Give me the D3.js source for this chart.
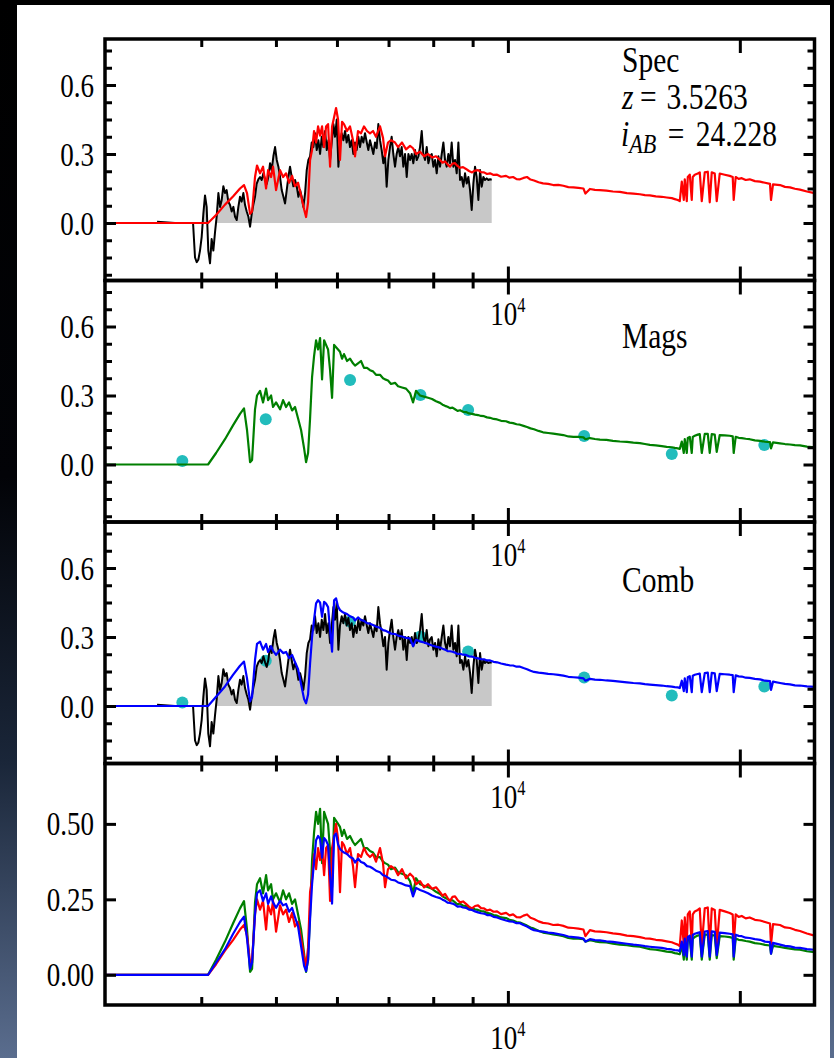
<!DOCTYPE html>
<html>
<head>
<meta charset="utf-8">
<script src="https://cdn.jsdelivr.net/npm/d3@7"></script>
<style>
  html, body { margin: 0; padding: 0; background: #000; }
  svg { display: block; }
</style>
</head>
<body>
<svg id="fig" width="834" height="1058"></svg>
<script>
// ---------- data ----------
// Model SED wavelength grid (observed frame, Angstrom)
const modelWave = [3000, 4082, 4181, 4294, 4398, 4491, 4545, 4586, 4628, 4656,
  4697, 4725, 4768, 4811, 4855, 4884, 4928, 4957, 5002, 5062,
  5108, 5154, 5200, 5247, 5294, 5342, 5390, 5439, 5471, 5504,
  5537, 5570, 5603, 5637, 5671, 5705, 5739, 5774, 5808, 5843,
  5878, 5913, 5949, 5984, 6020, 6055, 6092, 6128, 6184, 6239,
  6295, 6333, 6390, 6447, 6505, 6564, 6623, 6683, 6743, 6824,
  6886, 6927, 6989, 7052, 7137, 7202, 7288, 7376, 7465, 7532,
  7600, 7691, 7784, 7878, 7972, 8068,
  8165, 8226, 8288, 8350, 8412, 8475, 8539, 8603, 8668, 8746,
  8824, 8903, 8984, 9065, 9147, 9230, 9312, 9396, 9481, 9581,
  9682, 9798, 9945, 10050, 10157, 10263, 10369, 10478, 10589, 10700,
  10812, 10960, 11108, 11280, 11452, 11627, 11802, 11980, 12161, 12345,
  12533, 12608, 12778, 12970, 13165, 13425, 13687, 13975, 14271, 14550,
  14836, 15060, 15283, 15560, 15839, 16075, 16320, 16466, 16616, 16714,
  16815, 16916, 16966, 17068, 17119, 17221, 17324, 17376, 17480, 17637,
  17743, 17850, 18010, 18173, 18280, 18390, 18555, 18666, 18834, 19117,
  19404, 19579, 19637, 19755,
  19930, 20117, 20355, 20598, 20920, 21244, 21565, 21887, 21953, 22085,
  22550, 22890, 23233, 23580, 23937, 24440, 25000];

// Best-fit model fluxes: spectrum-only fit
const fluxSpec = [0, 0, 0.035, 0.08, 0.115, 0.15, 0.165, 0.13, 0.04, 0.05,
  0.2, 0.25, 0.216, 0.245, 0.15, 0.23, 0.2, 0.245, 0.143, 0.23,
  0.2, 0.216, 0.175, 0.205, 0.16, 0.175, 0.12, 0.06, 0.026, 0.09,
  0.274, 0.317, 0.4, 0.35, 0.42, 0.38, 0.42, 0.33, 0.42, 0.43,
  0.245, 0.42, 0.46, 0.5, 0.45, 0.274, 0.44, 0.43, 0.4, 0.42,
  0.36, 0.29, 0.4, 0.39, 0.42, 0.4, 0.39, 0.4, 0.375, 0.42,
  0.37, 0.29, 0.35, 0.36, 0.35, 0.33, 0.35, 0.32, 0.335, 0.325,
  0.3, 0.31, 0.29, 0.3, 0.285, 0.29,
  0.274, 0.262, 0.268, 0.255, 0.245, 0.258, 0.26, 0.248, 0.24, 0.243,
  0.235, 0.226, 0.22, 0.228, 0.23, 0.221, 0.22, 0.213, 0.216, 0.209,
  0.21, 0.201, 0.205, 0.197, 0.2, 0.191, 0.19, 0.196, 0.2, 0.189,
  0.185, 0.177, 0.172, 0.17, 0.165, 0.166, 0.162, 0.156, 0.155, 0.153,
  0.15, 0.128, 0.148, 0.144, 0.143, 0.141, 0.137, 0.135, 0.13, 0.128,
  0.125, 0.121, 0.12, 0.116, 0.114, 0.111, 0.108, 0.104, 0.1, 0.095,
  0.18, 0.1, 0.19, 0.095, 0.2, 0.21, 0.1, 0.2, 0.21, 0.215,
  0.22, 0.095, 0.22, 0.223, 0.09, 0.22, 0.215, 0.095, 0.215, 0.21,
  0.205, 0.2, 0.1, 0.2,
  0.192, 0.195, 0.187, 0.19, 0.182, 0.18, 0.175, 0.17, 0.1, 0.168,
  0.165, 0.157, 0.155, 0.149, 0.145, 0.137, 0.13];

// Best-fit model fluxes: photometry-only fit
const fluxMags = [0, 0, 0.05, 0.11, 0.17, 0.22, 0.244, 0.15, 0.01, 0.02,
  0.24, 0.3, 0.32, 0.27, 0.33, 0.28, 0.3, 0.25, 0.27, 0.24,
  0.28, 0.25, 0.27, 0.235, 0.25, 0.2, 0.15, 0.07, 0.01, 0.05,
  0.2, 0.38, 0.47, 0.54, 0.5, 0.55, 0.37, 0.54, 0.52, 0.5,
  0.41, 0.29, 0.52, 0.51, 0.5, 0.49, 0.46, 0.48, 0.45, 0.46,
  0.44, 0.43, 0.44, 0.45, 0.42, 0.42, 0.41, 0.405, 0.39, 0.39,
  0.375, 0.37, 0.365, 0.35, 0.355, 0.34, 0.335, 0.33, 0.31, 0.27,
  0.32, 0.3, 0.295, 0.29, 0.285, 0.275,
  0.268, 0.26, 0.255, 0.251, 0.245, 0.247, 0.24, 0.233, 0.236, 0.229,
  0.228, 0.222, 0.22, 0.217, 0.215, 0.211, 0.21, 0.205, 0.203, 0.198,
  0.196, 0.19, 0.188, 0.182, 0.18, 0.175, 0.173, 0.168, 0.163, 0.157,
  0.153, 0.146, 0.14, 0.137, 0.134, 0.131, 0.128, 0.122, 0.12, 0.12,
  0.118, 0.11, 0.115, 0.111, 0.108, 0.107, 0.103, 0.1, 0.098, 0.095,
  0.093, 0.089, 0.085, 0.083, 0.08, 0.077, 0.075, 0.072, 0.07, 0.068,
  0.1, 0.05, 0.11, 0.05, 0.115, 0.12, 0.05, 0.12, 0.125, 0.13,
  0.132, 0.05, 0.133, 0.133, 0.05, 0.132, 0.13, 0.055, 0.128, 0.127,
  0.125, 0.122, 0.05, 0.12,
  0.116, 0.115, 0.112, 0.11, 0.105, 0.103, 0.099, 0.097, 0.07, 0.096,
  0.092, 0.089, 0.087, 0.084, 0.083, 0.078, 0.075];

// Best-fit model fluxes: combined spectrum + photometry fit
const fluxComb = [0, 0, 0.04, 0.085, 0.135, 0.175, 0.193, 0.12, 0.02, 0.04,
  0.2, 0.27, 0.28, 0.245, 0.27, 0.235, 0.26, 0.24, 0.222, 0.245,
  0.23, 0.235, 0.209, 0.222, 0.19, 0.16, 0.095, 0.03, 0.012, 0.05,
  0.185, 0.3, 0.374, 0.446, 0.46, 0.45, 0.388, 0.453, 0.445, 0.43,
  0.33, 0.236, 0.46, 0.468, 0.432, 0.417, 0.41, 0.405, 0.4, 0.39,
  0.385, 0.372, 0.385, 0.374, 0.37, 0.36, 0.358, 0.352, 0.345, 0.34,
  0.33, 0.328, 0.322, 0.315, 0.313, 0.306, 0.302, 0.296, 0.294, 0.26,
  0.288, 0.281, 0.276, 0.27, 0.263, 0.258,
  0.254, 0.249, 0.245, 0.239, 0.238, 0.236, 0.232, 0.226, 0.227, 0.223,
  0.222, 0.216, 0.215, 0.21, 0.207, 0.204, 0.203, 0.198, 0.198, 0.192,
  0.19, 0.185, 0.18, 0.177, 0.176, 0.171, 0.171, 0.165, 0.16, 0.153,
  0.148, 0.145, 0.143, 0.14, 0.138, 0.135, 0.132, 0.127, 0.125, 0.123,
  0.12, 0.11, 0.118, 0.115, 0.114, 0.111, 0.109, 0.106, 0.103, 0.1,
  0.098, 0.095, 0.093, 0.091, 0.089, 0.086, 0.084, 0.082, 0.081, 0.078,
  0.11, 0.065, 0.12, 0.06, 0.125, 0.13, 0.06, 0.132, 0.136, 0.139,
  0.141, 0.06, 0.143, 0.145, 0.06, 0.144, 0.142, 0.065, 0.14, 0.138,
  0.136, 0.134, 0.06, 0.133,
  0.129, 0.128, 0.123, 0.122, 0.118, 0.116, 0.11, 0.108, 0.07, 0.106,
  0.1, 0.096, 0.094, 0.09, 0.089, 0.085, 0.083];

// Observed spectrum
const obsWave = [3505, 3698, 3903,
  3926, 3946, 3965, 3985, 4005, 4025, 4045, 4065, 4085, 4106,
  4126, 4147, 4168, 4189, 4210, 4231, 4252, 4273, 4294, 4315,
  4337, 4359, 4381, 4403, 4425, 4447, 4469, 4491, 4513, 4536,
  4559, 4582, 4605, 4628, 4651, 4674, 4697, 4720, 4744, 4768,
  4792, 4816, 4840, 4864, 4888, 4913, 4937, 4962, 4987, 5012,
  5037, 5062, 5087, 5113, 5138, 5164, 5189, 5215, 5241, 5267,
  5294, 5320, 5347, 5374, 5400, 5427, 5455, 5482, 5509, 5537,
  5564, 5592, 5620, 5648, 5676, 5705, 5733, 5762, 5791, 5820,
  5849, 5878, 5907, 5937, 5966, 5996, 6026, 6055, 6086, 6116,
  6147, 6177, 6208, 6239, 6270, 6301, 6333, 6364, 6396, 6428,
  6460, 6492, 6525, 6557, 6590, 6623, 6656, 6689, 6723, 6756,
  6790, 6824, 6858, 6892, 6927, 6961, 6996, 7031, 7066, 7101,
  7137, 7172, 7208, 7245, 7281, 7317, 7354, 7391, 7428, 7465,
  7502, 7539, 7577, 7615, 7653, 7691, 7730, 7768, 7807, 7846,
  7885, 7925, 7964, 8004, 8044, 8084, 8125, 8165, 8206, 8247,
  8288, 8329, 8371, 8412, 8454, 8497, 8539, 8582, 8625, 8668,
  8711, 8755, 8798, 8842, 8886, 8931, 8975, 9020, 9065, 9110,
  9156, 9202, 9248, 9294, 9340, 9387, 9433, 9481, 9528];
const obsFlux = [0.005, 0, 0,
  -0.15, -0.17, -0.16, -0.12, -0.06, 0.04, 0.12, 0.07, -0.12, -0.175,
  -0.07, -0.12, -0.04, 0.03, 0.13, 0.07, 0.1, 0.16, 0.13, 0.143,
  0.093, 0.078, 0.05, 0.07, 0.027, 0.013, 0.07, 0.114, 0.093, 0.13,
  0.078, 0.05, 0.027, -0.016, 0.04, 0.08, 0.114, 0.17, 0.19, 0.2,
  0.187, 0.216, 0.19, 0.17, 0.2, 0.26, 0.23, 0.29, 0.33, 0.274,
  0.245, 0.2, 0.143, 0.114, 0.085, 0.143, 0.2, 0.245, 0.2, 0.16,
  0.187, 0.16, 0.114, 0.143, 0.114, 0.07, 0.13, 0.23, 0.274, 0.29,
  0.35, 0.33, 0.39, 0.317, 0.36, 0.3, 0.375, 0.33, 0.4, 0.317,
  0.36, 0.274, 0.35, 0.43, 0.375, 0.45, 0.245, 0.35, 0.39, 0.36,
  0.4, 0.35, 0.383, 0.33, 0.36, 0.3, 0.35, 0.317, 0.375, 0.33,
  0.375, 0.35, 0.39, 0.353, 0.317, 0.36, 0.33, 0.3, 0.35, 0.325,
  0.43, 0.36, 0.317, 0.26, 0.3, 0.158, 0.274, 0.33, 0.375, 0.3,
  0.245, 0.3, 0.33, 0.29, 0.33, 0.245, 0.3, 0.2, 0.3, 0.274,
  0.3, 0.26, 0.317, 0.274, 0.29, 0.33, 0.4, 0.3, 0.274, 0.33,
  0.26, 0.29, 0.3, 0.245, 0.274, 0.216, 0.29, 0.245, 0.3, 0.35,
  0.274, 0.245, 0.3, 0.26, 0.35, 0.245, 0.274, 0.216, 0.35, 0.187,
  0.2, 0.158, 0.216, 0.172, 0.2, 0.143, 0.057, 0.172, 0.245, 0.2,
  0.1, 0.23, 0.158, 0.2, 0.187, 0.194, 0.187, 0.19, 0.188];

// Broad-band photometry
const photWave = [3780, 4850, 6240, 7700, 8880, 12560, 16320, 21520];
const photFlux = [0.015, 0.197, 0.367, 0.302, 0.237, 0.124, 0.046, 0.085];

// Axis ticks and labels
const xDomain = [3000, 25000];
const xMinorTicks = [4000, 5000, 6000, 7000, 8000, 9000];
const xMajorTicks = [10000, 20000];
const xLabelTick = 10000;
const yDomainTop = [-0.25, 0.8];
const yMajorTicks = [0, 0.3, 0.6];
const yTickLabels = ["0.0", "0.3", "0.6"];
const yMinorTicks = [-0.225, -0.15, -0.075, 0.075, 0.15, 0.225, 0.375, 0.45, 0.525, 0.675, 0.75];
const yDomainBottom = [-0.1, 0.7];
const y4Ticks = [0, 0.25, 0.5];
const y4TickLabels = ["0.00", "0.25", "0.50"];
const panelNames = ["Spec", "Mags", "Comb"];
const redshiftText = "3.5263";
const iMagText = "24.228";

// ---------- layout ----------
const W = 834, H = 1058;
const X0 = 105, X1 = 814.5, TOP = 39, PH = 241.5;
const SX = 0.82;   // horizontal squeeze of the serif lettering
const FONT = "'Liberation Serif','Times New Roman',Times,serif";
const COL = { spec: "#ff0000", mags: "#007f00", comb: "#0000ff", obs: "#000000",
              fill: "#c8c8c8", phot: "#22bcbc" };

const svg = d3.select("#fig");
const defs = svg.append("defs");

// slide background and white page
const grad = defs.append("linearGradient").attr("id", "bg")
  .attr("x1", 0).attr("y1", 0).attr("x2", 0).attr("y2", 1);
grad.selectAll("stop")
  .data([[0, "#000000"], [0.45, "#020307"], [0.72, "#1a2639"], [1, "#5a6d8e"]])
  .join("stop").attr("offset", d => d[0]).attr("stop-color", d => d[1]);
svg.append("rect").attr("width", W).attr("height", H).attr("fill", "url(#bg)");
svg.append("rect").attr("x", 17).attr("y", 5).attr("width", 813).attr("height", H - 5)
  .attr("fill", "#ffffff");

const x = d3.scaleLog().domain(xDomain).range([X0, X1]);

const panels = d3.range(4).map(i => {
  const top = TOP + i * PH, bottom = top + PH;
  const dom = i < 3 ? yDomainTop : yDomainBottom;
  return { i, top, bottom, y: d3.scaleLinear().domain(dom).range([bottom, top]) };
});

panels.forEach(p => {
  defs.append("clipPath").attr("id", "clip" + p.i)
    .append("rect").attr("x", X0).attr("y", p.top).attr("width", X1 - X0).attr("height", PH);
});

const modelSpec = d3.zip(modelWave, fluxSpec);
const modelMags = d3.zip(modelWave, fluxMags);
const modelComb = d3.zip(modelWave, fluxComb);
const obs = d3.zip(obsWave, obsFlux);
const phot = d3.zip(photWave, photFlux);

function lineFor(p) {
  return d3.line().x(d => x(d[0])).y(d => p.y(d[1]));
}

function drawObs(g, p) {
  const area = d3.area().x(d => x(d[0])).y0(p.y(0)).y1(d => p.y(Math.max(0, d[1])));
  g.append("path").datum(obs).attr("d", area).attr("fill", COL.fill);
}
function drawObsLine(g, p) {
  g.append("path").datum(obs).attr("d", lineFor(p))
    .attr("fill", "none").attr("stroke", COL.obs).attr("stroke-width", 2)
    .attr("stroke-linejoin", "round");
}
function drawModel(g, p, data, color) {
  g.append("path").datum(data).attr("d", lineFor(p))
    .attr("fill", "none").attr("stroke", color).attr("stroke-width", 2.2)
    .attr("stroke-linejoin", "round");
}
function drawPhot(g, p) {
  g.selectAll("circle.phot").data(phot).join("circle").attr("class", "phot")
    .attr("cx", d => x(d[0])).attr("cy", d => p.y(d[1])).attr("r", 6)
    .attr("fill", COL.phot);
}

function sText(sel, px, py, size, anchor) {
  return sel.append("text")
    .attr("transform", `translate(${px},${py}) scale(${SX},1)`)
    .attr("font-family", FONT).attr("font-size", size)
    .attr("text-anchor", anchor).attr("fill", "#000");
}

// ---------- panel contents ----------
panels.forEach(p => {
  const g = svg.append("g").attr("clip-path", `url(#clip${p.i})`);
  if (p.i === 0) {
    drawObs(g, p); drawObsLine(g, p); drawModel(g, p, modelSpec, COL.spec);
  } else if (p.i === 1) {
    drawPhot(g, p); drawModel(g, p, modelMags, COL.mags);
  } else if (p.i === 2) {
    drawObs(g, p); drawPhot(g, p); drawObsLine(g, p); drawModel(g, p, modelComb, COL.comb);
  } else {
    drawModel(g, p, modelMags, COL.mags);
    drawModel(g, p, modelSpec, COL.spec);
    drawModel(g, p, modelComb, COL.comb);
  }
});

// ---------- frames, ticks, labels ----------
const axes = svg.append("g");
function styleAxis(sel) {
  sel.select(".domain").remove();
  sel.selectAll("text").remove();
  sel.selectAll("line").attr("stroke", "#000").attr("stroke-width", 3);
}

panels.forEach(p => {
  const majY = p.i < 3 ? yMajorTicks : y4Ticks;
  const minY = p.i < 3 ? yMinorTicks : [];
  // y ticks (left and right, pointing inward)
  axes.append("g").attr("transform", `translate(${X0},0)`)
    .call(d3.axisLeft(p.y).tickValues(majY).tickSizeInner(-11).tickSizeOuter(0)).call(styleAxis);
  axes.append("g").attr("transform", `translate(${X0},0)`)
    .call(d3.axisLeft(p.y).tickValues(minY).tickSizeInner(-7).tickSizeOuter(0)).call(styleAxis);
  axes.append("g").attr("transform", `translate(${X1},0)`)
    .call(d3.axisRight(p.y).tickValues(majY).tickSizeInner(-11).tickSizeOuter(0)).call(styleAxis);
  axes.append("g").attr("transform", `translate(${X1},0)`)
    .call(d3.axisRight(p.y).tickValues(minY).tickSizeInner(-7).tickSizeOuter(0)).call(styleAxis);
  // x ticks (top and bottom, pointing inward)
  [[p.top, d3.axisTop], [p.bottom, d3.axisBottom]].forEach(([yy, ax]) => {
    axes.append("g").attr("transform", `translate(0,${yy})`)
      .call(ax(x).tickValues(xMajorTicks).tickSizeInner(-14).tickSizeOuter(0)).call(styleAxis);
    axes.append("g").attr("transform", `translate(0,${yy})`)
      .call(ax(x).tickValues(xMinorTicks).tickSizeInner(-8).tickSizeOuter(0)).call(styleAxis);
  });
  // frame
  axes.append("rect").attr("x", X0).attr("y", p.top).attr("width", X1 - X0).attr("height", PH)
    .attr("fill", "none").attr("stroke", "#000").attr("stroke-width", 3.5);

  // y tick labels
  const labs = p.i < 3 ? yTickLabels : y4TickLabels;
  majY.forEach((v, k) => {
    sText(axes, 94, p.y(v) + 11.5, 33, "end").text(labs[k]);
  });

  // x tick label 10^4 under each panel
  const t = sText(axes, x(xLabelTick), p.bottom + 44, 33, "middle");
  t.append("tspan").text("10");
  t.append("tspan").attr("font-size", 20).attr("dy", -13).text("4");
});

// panel annotations
sText(axes, 622, 72, 36, "start").text(panelNames[0]);
const zt = sText(axes, 622, 108.5, 36, "start");
zt.append("tspan").attr("font-style", "italic").text("z");
zt.append("tspan").attr("dx", 8).text("=");
zt.append("tspan").attr("dx", 12).text(redshiftText);
const it = sText(axes, 621, 146, 36, "start");
it.append("tspan").attr("font-style", "italic").text("i");
it.append("tspan").attr("font-style", "italic").attr("font-size", 27).attr("dy", 7).text("AB");
it.append("tspan").attr("dy", -7).attr("dx", 14).text("=");
it.append("tspan").attr("dx", 14).text(iMagText);

sText(axes, 622, panels[1].top + 67.5, 36, "start").text(panelNames[1]);
sText(axes, 622, panels[2].top + 69.5, 36, "start").text(panelNames[2]);
</script>
</body>
</html>
